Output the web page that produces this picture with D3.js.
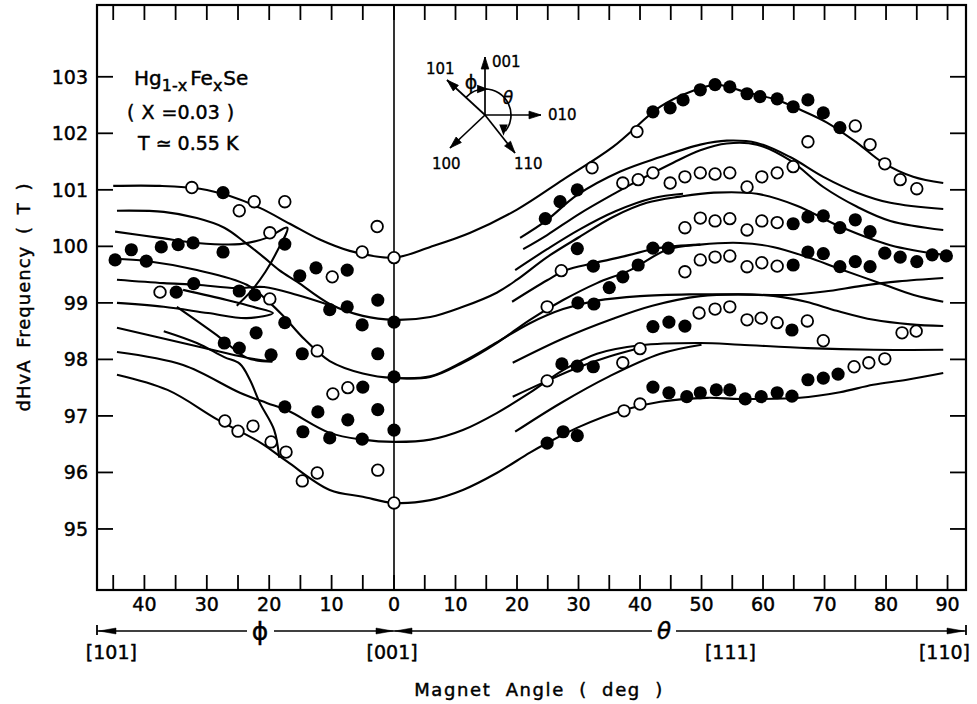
<!DOCTYPE html>
<html><head><meta charset="utf-8">
<script src="https://cdn.jsdelivr.net/npm/d3@7"></script>
<style>body{margin:0;background:#fff}svg{display:block}</style>
</head><body>
<svg id="chart" width="977" height="704"></svg>
<script>
// ---------- data ----------
const yTicks = [95, 96, 97, 98, 99, 100, 101, 102, 103];
const xTickValues = [-40, -30, -20, -10, 0, 10, 20, 30, 40, 50, 60, 70, 80, 90];
const minorTickValues = [-45, -40, -35, -30, -25, -20, -15, -10, -5, 0, 5, 10, 15, 20, 25, 30, 35, 40, 45, 50, 55, 60, 65, 70, 75, 80, 85, 90];
const directionLabels = [["[101]", -45.3], ["[001]", -0.3], ["[111]", 54.7], ["[110]", 89.5]];

// measured points: [angle (phi negative, theta positive), frequency T]
const filledPoints = [
  [-44.7, 99.76], [-42.1, 99.94], [-39.7, 99.74], [-37.3, 99.99], [-34.6, 100.03], [-32.2, 100.06],
  [-27.4, 100.95], [-27.4, 99.90], [-17.5, 100.04],
  [-34.9, 99.19], [-32.1, 99.34], [-24.8, 99.21], [-22.3, 99.14],
  [-27.2, 98.29], [-24.8, 98.20], [-22.1, 98.47], [-19.7, 98.08], [-17.5, 98.65],
  [-15.1, 99.48], [-12.5, 99.62], [-7.5, 99.58], [-10.3, 98.88], [-7.5, 98.93], [-5.1, 98.61],
  [-2.6, 99.05], [0, 98.66], [-2.6, 98.10], [-14.7, 98.10], [0, 97.69], [-5.0, 97.51],
  [-17.5, 97.16], [-12.2, 97.07], [-7.4, 96.93], [-2.6, 97.11], [-14.6, 96.72], [-10.3, 96.61],
  [-5.1, 96.59], [0, 96.75],
  [24.6, 100.49], [27.0, 100.79], [29.8, 101.00],
  [42.1, 102.38], [44.9, 102.45], [47.0, 102.59], [49.8, 102.77], [52.2, 102.86], [54.6, 102.82],
  [57.4, 102.70], [59.5, 102.65], [62.3, 102.61], [64.9, 102.47], [67.3, 102.59], [69.8, 102.36], [72.5, 102.10],
  [29.8, 99.96], [32.4, 99.65], [42.1, 99.97], [44.6, 99.97], [39.7, 99.67], [37.2, 99.46], [35.0, 99.27],
  [32.5, 98.98], [29.9, 99.00],
  [64.9, 100.40], [67.3, 100.52], [69.8, 100.54], [72.5, 100.33], [75.0, 100.47], [77.4, 100.26],
  [64.9, 99.67], [67.3, 99.90], [69.8, 99.87], [72.5, 99.64], [75.0, 99.73], [77.4, 99.64],
  [79.8, 99.88], [82.3, 99.81], [85.0, 99.73], [87.5, 99.85], [89.8, 99.83],
  [42.1, 98.58], [44.7, 98.66], [47.3, 98.59], [64.7, 98.52],
  [27.3, 97.92], [29.8, 97.88], [32.4, 97.87],
  [24.9, 96.52], [27.5, 96.72], [29.8, 96.65],
  [42.1, 97.51], [44.7, 97.41], [47.6, 97.34], [49.8, 97.41], [52.4, 97.46], [54.6, 97.46], [57.1, 97.30],
  [59.7, 97.34], [62.3, 97.41], [64.7, 97.35], [67.3, 97.64], [69.8, 97.67], [72.2, 97.74]
];
const openPoints = [
  [-32.4, 101.04], [-24.8, 100.63], [-22.4, 100.79], [-17.5, 100.79], [-19.9, 100.24],
  [-37.5, 99.19], [-19.9, 99.07], [-9.9, 99.46], [-5.1, 99.90], [-2.7, 100.35], [0, 99.80],
  [-12.3, 98.15], [-9.8, 97.39], [-7.4, 97.50],
  [-27.1, 96.91], [-25.0, 96.73], [-22.6, 96.82], [-19.7, 96.54], [-17.3, 96.36], [-14.7, 95.85],
  [-12.3, 95.99], [-2.6, 96.04], [0, 95.46],
  [32.2, 101.39], [39.5, 102.03], [37.2, 101.12], [39.7, 101.18], [42.1, 101.30], [44.9, 101.12],
  [47.3, 101.23], [49.8, 101.30], [52.2, 101.28], [54.6, 101.30], [57.4, 101.05], [59.8, 101.23],
  [62.3, 101.30], [64.9, 101.41], [67.3, 101.85], [75.0, 102.13], [77.4, 101.80], [79.8, 101.46],
  [82.3, 101.18], [85.0, 101.02],
  [27.2, 99.57], [24.9, 98.93],
  [47.3, 100.33], [49.8, 100.50], [52.2, 100.45], [54.6, 100.49], [57.4, 100.29], [59.8, 100.45], [62.3, 100.42],
  [47.3, 99.55], [49.8, 99.76], [52.2, 99.81], [54.6, 99.83], [57.4, 99.64], [59.8, 99.71], [62.3, 99.65],
  [49.6, 98.82], [52.2, 98.89], [54.6, 98.93], [57.4, 98.70], [59.7, 98.73], [62.3, 98.65], [67.2, 98.68],
  [69.8, 98.33], [82.6, 98.47], [84.9, 98.50],
  [40.0, 98.19], [37.2, 97.94], [24.9, 97.62], [40.0, 97.21], [37.4, 97.09],
  [74.8, 97.87], [77.2, 97.94], [79.8, 98.01]
];

// calculated branches (drawn as smooth lines)
const branchTop = [[-45, 101.07], [-37.5, 101.07], [-31.1, 101.02], [-26.3, 100.89], [-21.5, 100.68], [-16.7, 100.40],
  [-11.9, 100.12], [-7.1, 99.92], [0, 99.80], [5.9, 99.99], [12.4, 100.24], [20, 100.65], [27.5, 101.18],
  [35.6, 101.76], [43.3, 102.47], [48.1, 102.73], [52.5, 102.86], [57.4, 102.72], [62.3, 102.59], [66, 102.42],
  [70.4, 102.19], [75.3, 101.83], [79.5, 101.48], [84.4, 101.23], [89.3, 101.12]];
const branchB = [[-44.4, 100.63], [-36.9, 100.61], [-31.6, 100.50], [-27.2, 100.33], [-24.0, 100.08], [-20.8, 99.80],
  [-18.4, 99.58], [-15.5, 99.37], [-10.3, 98.98], [-5.0, 98.77], [0, 98.70], [5.9, 98.75], [11.2, 98.93],
  [16.7, 99.18], [20, 99.41], [24.9, 99.81], [30.2, 100.17], [35.6, 100.52], [41.1, 100.77], [46.5, 100.88],
  [52, 100.95], [59, 100.93], [65.5, 100.72], [72.5, 100.35], [80.7, 100.02], [89.3, 99.85]];
const branchB2 = [[19.7, 99.58], [24.9, 99.95], [30.2, 100.30], [36, 100.62], [42, 100.85], [47, 100.93]];
const branchC = [[-44.4, 97.73], [-36.3, 97.46], [-28.2, 96.93], [-21.3, 96.52], [-17.1, 96.19], [-10.3, 95.69],
  [-5, 95.57], [0, 95.46], [5.9, 95.51], [11.2, 95.69], [16.7, 95.99], [22.1, 96.35], [24.9, 96.52],
  [30.2, 96.81], [37.2, 97.10], [43.3, 97.25], [50.9, 97.32], [56.3, 97.30], [66, 97.32], [72.5, 97.42],
  [77.9, 97.55], [83.4, 97.64], [89.3, 97.76]];
const branchD = [[-44.4, 98.13], [-33.8, 97.90], [-24.7, 97.41], [-20.4, 97.23], [-17.1, 97.10], [-10.3, 96.70],
  [-5, 96.58], [0, 96.54], [5.9, 96.58], [11.2, 96.75], [16.7, 97.05], [22.1, 97.41], [27.5, 97.81],
  [33, 98.10], [40, 98.25], [49.8, 98.29], [56.3, 98.26], [67.2, 98.20], [78, 98.17], [89.3, 98.17]];
const branchE = [[-44.7, 99.78], [-39.7, 99.74], [-31.6, 99.58], [-23.6, 99.32], [-19.9, 99.00], [-17.6, 98.75],
  [-14.3, 98.35], [-10.3, 97.97], [-5, 97.75], [0, 97.67], [5.9, 97.69], [11.2, 97.94], [16.7, 98.29],
  [22.1, 98.70], [27.5, 99.05], [33, 99.35], [38.4, 99.58], [44.4, 99.94], [49.8, 100.03], [56.3, 100.06],
  [61.6, 99.99], [67.2, 99.81], [72.5, 99.60], [79.5, 99.33], [84.5, 99.14], [89.3, 99.02]];
const branchE2 = [[0, 97.67], [5.9, 97.70], [11.2, 97.96], [16.7, 98.30], [22.1, 98.64], [27.5, 98.89], [33, 99.04],
  [40, 99.12], [48, 99.15], [56, 99.15], [64, 99.14], [70, 99.20], [76, 99.30], [82, 99.38], [89.3, 99.44]];
const branchF = [[-44.4, 99.41], [-36.9, 99.35], [-31.6, 99.32], [-25.3, 99.26], [-20.8, 99.28], [-15.5, 99.14], [-10.3, 98.96]];
const branchG = [[-44.7, 100.26], [-37.5, 100.15], [-31.6, 100.06], [-24.7, 100.04], [-20.4, 100.15], [-17.1, 100.33],
  [-18.8, 99.90], [-20.6, 99.55], [-22.8, 99.22], [-25.2, 98.95]];
const branchH = [[-44.4, 99.00], [-36.9, 98.93], [-29.8, 98.82], [-23.6, 98.73], [-19.4, 98.82],
  [-22.6, 98.93], [-26.8, 99.05], [-33.8, 99.23]];
const branchI = [[-44.4, 98.56], [-31.1, 98.22], [-23.6, 98.03], [-19.6, 97.96],
  [-23.6, 98.03], [-28.4, 98.43], [-34.8, 98.93]];
const branchJ = [[-36.9, 98.50], [-31.6, 98.29], [-27.2, 98.04], [-24.7, 97.92], [-23.1, 97.64], [-21.5, 97.23],
  [-19.2, 96.75], [-18.4, 96.26]];
const branchS1 = [[20.5, 100.15], [24.7, 100.45], [29.8, 100.91], [36.7, 101.32], [43.3, 101.58], [49.8, 101.80],
  [54.1, 101.87], [59, 101.83], [64.4, 101.58], [69.8, 101.23], [75.3, 100.95], [80.7, 100.77], [89.3, 100.66]];
const branchS2 = [[21.0, 99.95], [24.9, 100.20], [30.2, 100.58], [35.6, 100.92], [40, 101.18], [45.4, 101.48],
  [49.8, 101.70], [54.1, 101.82], [59, 101.80], [64.4, 101.52], [69.8, 101.05], [75.3, 100.70], [80.7, 100.45], [89.3, 100.29]];
const branchS3 = [[19.2, 99.02], [24.9, 99.40], [28, 99.58], [32.4, 99.70], [38, 99.84], [43, 99.97], [49.8, 100.03]];
const branchS4 = [[19.3, 97.94], [27.5, 98.37], [35.6, 98.72], [42, 98.95], [49.8, 99.12], [56, 99.15], [62, 99.12],
  [67, 99.02], [72, 98.86], [78, 98.70], [84, 98.62], [89.3, 98.59]];
const branchS5 = [[19.7, 96.72], [27, 97.22], [35, 97.70], [43.3, 98.10], [50, 98.26]];
const branchS6 = [[19.3, 97.34], [24.9, 97.62], [30, 97.86], [35, 98.05], [40, 98.20]];
const branches = [branchTop, branchB, branchB2, branchC, branchD, branchE, branchE2, branchF, branchG, branchH,
  branchI, branchJ, branchS1, branchS2, branchS3, branchS4, branchS5, branchS6];

// ---------- drawing ----------
const svg = d3.select("#chart");
const FONT = "'DejaVu Sans', 'Noto Sans', sans-serif";
const x = d3.scaleLinear().domain([-47.6, 0, 93]).range([97, 394, 966]);
const y = d3.scaleLinear().domain([93.92, 104.27]).range([590, 5]);
const [x0, x1] = [x(-47.6), x(93)];
const [y0, y1] = [y(93.92), y(104.27)];

const plot = svg.append("g");
const line = d3.line().x(d => x(d[0])).y(d => y(d[1])).curve(d3.curveCatmullRom.alpha(0.5));
plot.selectAll("path.branch").data(branches).join("path")
  .attr("class", "branch").attr("d", line)
  .attr("fill", "none").attr("stroke", "#000").attr("stroke-width", 2.1).attr("stroke-linejoin", "round");

plot.append("line").attr("x1", x(0)).attr("x2", x(0)).attr("y1", y1).attr("y2", y0)
  .attr("stroke", "#000").attr("stroke-width", 1.6);

plot.selectAll("circle.open").data(openPoints).join("circle").attr("class", "open")
  .attr("cx", d => x(d[0])).attr("cy", d => y(d[1])).attr("r", 5.8)
  .attr("fill", "#fff").attr("stroke", "#000").attr("stroke-width", 1.8);
plot.selectAll("circle.filled").data(filledPoints).join("circle").attr("class", "filled")
  .attr("cx", d => x(d[0])).attr("cy", d => y(d[1])).attr("r", 6.6).attr("fill", "#000");

svg.append("rect").attr("x", x0).attr("y", y1).attr("width", x1 - x0).attr("height", y0 - y1)
  .attr("fill", "none").attr("stroke", "#000").attr("stroke-width", 2.2);

const tk = svg.append("g").attr("stroke", "#000").attr("stroke-width", 1.8);
minorTickValues.forEach(v => {
  tk.append("line").attr("x1", x(v)).attr("x2", x(v)).attr("y1", y0).attr("y2", y0 - 15);
  tk.append("line").attr("x1", x(v)).attr("x2", x(v)).attr("y1", y1).attr("y2", y1 + 15);
});
yTicks.forEach(v => {
  tk.append("line").attr("x1", x0).attr("x2", x0 + 16).attr("y1", y(v)).attr("y2", y(v));
  tk.append("line").attr("x1", x1 - 16).attr("x2", x1).attr("y1", y(v)).attr("y2", y(v));
});

const txt = svg.append("g").attr("font-family", FONT).attr("fill", "#000")
  .attr("stroke", "#000").attr("stroke-width", 0.45);
yTicks.forEach(v => {
  txt.append("text").attr("x", x0 - 9).attr("y", y(v)).attr("dy", "0.36em")
    .attr("text-anchor", "end").attr("font-size", 19).text(v);
});
xTickValues.forEach(v => {
  txt.append("text").attr("x", x(v)).attr("y", y0 + 21).attr("text-anchor", "middle")
    .attr("font-size", 19).text(Math.abs(v));
});
directionLabels.forEach(([t, v]) => {
  txt.append("text").attr("x", x(v)).attr("y", 659).attr("text-anchor", "middle")
    .attr("font-size", 19).text(t);
});
txt.append("text").attr("x", 539).attr("y", 696).attr("text-anchor", "middle")
  .attr("font-size", 18).attr("letter-spacing", 1.6).attr("word-spacing", 7).text("Magnet Angle ( deg )");
txt.append("text").attr("transform", "translate(30,297) rotate(-90)").attr("text-anchor", "middle")
  .attr("font-size", 18).attr("letter-spacing", 1.0).attr("word-spacing", 5).text("dHvA Frequency ( T )");

const ar = svg.append("g").attr("stroke", "#000").attr("fill", "#000");
const ay = 631;
ar.append("line").attr("x1", x0).attr("x2", 247).attr("y1", ay).attr("y2", ay).attr("stroke-width", 1.5);
ar.append("line").attr("x1", 274).attr("x2", 652).attr("y1", ay).attr("y2", ay).attr("stroke-width", 1.5);
ar.append("line").attr("x1", 676).attr("x2", x1).attr("y1", ay).attr("y2", ay).attr("stroke-width", 1.5);
ar.append("line").attr("x1", x0).attr("x2", x0).attr("y1", ay - 6).attr("y2", ay + 4).attr("stroke-width", 1.8);
ar.append("line").attr("x1", x1).attr("x2", x1).attr("y1", ay - 6).attr("y2", ay + 4).attr("stroke-width", 1.8);
const tri = (tipX, dir) => `M${tipX},${ay} L${tipX + dir * 17},${ay - 3} L${tipX + dir * 17},${ay + 3} Z`;
ar.append("path").attr("d", tri(x0 + 2, 1)).attr("stroke-width", 0.5);
ar.append("path").attr("d", tri(x1 - 2, -1)).attr("stroke-width", 0.5);
ar.append("path").attr("d", tri(x(0) - 1, -1)).attr("stroke-width", 0.5);
ar.append("path").attr("d", tri(x(0) + 1, 1)).attr("stroke-width", 0.5);
txt.append("text").attr("x", 260).attr("y", 640).attr("text-anchor", "middle").attr("font-size", 25).text("ϕ");
txt.append("text").attr("x", 664).attr("y", 639).attr("text-anchor", "middle").attr("font-size", 23)
  .attr("font-style", "italic").text("θ");

const lab = txt.append("g").attr("font-size", 20);
const t1 = lab.append("text").attr("x", 134).attr("y", 85);
t1.append("tspan").text("Hg");
t1.append("tspan").attr("font-size", 16).attr("dy", 6).text("1-x");
t1.append("tspan").attr("dy", -6).attr("dx", 3).text("Fe");
t1.append("tspan").attr("font-size", 16).attr("dy", 6).text("x");
t1.append("tspan").attr("dy", -6).attr("dx", 1).text("Se");
lab.append("text").attr("x", 127).attr("y", 119).attr("font-size", 19).attr("word-spacing", 1).text("( X =0.03 )");
lab.append("text").attr("x", 138).attr("y", 150).attr("font-size", 19).text("T ≃ 0.55 K");

const cx = 485, cy = 115;
const ins = svg.append("g").attr("stroke", "#000").attr("fill", "none").attr("stroke-width", 1.7);
const arrowTo = (ex, ey) => {
  ins.append("line").attr("x1", cx).attr("y1", cy).attr("x2", ex).attr("y2", ey);
  const a = Math.atan2(ey - cy, ex - cx), L = 12, W = 3.8;
  const bx = ex - L * Math.cos(a), by = ey - L * Math.sin(a);
  ins.append("path").attr("fill", "#000").attr("stroke-width", 0.8)
    .attr("d", `M${ex},${ey} L${bx - W * Math.sin(a)},${by + W * Math.cos(a)} L${bx + W * Math.sin(a)},${by - W * Math.cos(a)} Z`);
};
arrowTo(485, 57); arrowTo(541, 115); arrowTo(447, 80); arrowTo(450, 148); arrowTo(515, 153);
const arcR = 26;
ins.append("path").attr("transform", `translate(${cx},${cy})`)
  .attr("d", d3.arc()({ innerRadius: arcR, outerRadius: arcR, startAngle: -0.83, endAngle: 0 }));
ins.append("path").attr("transform", `translate(${cx},${cy})`)
  .attr("d", d3.arc()({ innerRadius: arcR, outerRadius: arcR, startAngle: 0, endAngle: 2.25 }));
{
  const a = 2.35, px = cx + arcR * Math.sin(a), py = cy - arcR * Math.cos(a);
  ins.append("path").attr("fill", "#000").attr("d", `M${px},${py} l-3,-8 l6,0 Z`);
  ins.append("path").attr("fill", "#000").attr("d", `M${cx + 1},${cy - arcR} l-8,-3 l0,6 Z`);
}
const it = svg.append("g").attr("font-family", FONT).attr("font-size", 15).attr("fill", "#000")
  .attr("stroke", "#000").attr("stroke-width", 0.35);
it.append("text").attr("x", 492).attr("y", 67).text("001");
it.append("text").attr("x", 426).attr("y", 74).text("101");
it.append("text").attr("x", 548).attr("y", 120).text("010");
it.append("text").attr("x", 432).attr("y", 169).text("100");
it.append("text").attr("x", 514).attr("y", 169).text("110");
it.append("text").attr("x", 471).attr("y", 89).attr("text-anchor", "middle").attr("font-size", 19).text("ϕ");
it.append("text").attr("x", 508).attr("y", 104).attr("text-anchor", "middle").attr("font-size", 17)
  .attr("font-style", "italic").text("θ");
</script>
</body></html>
